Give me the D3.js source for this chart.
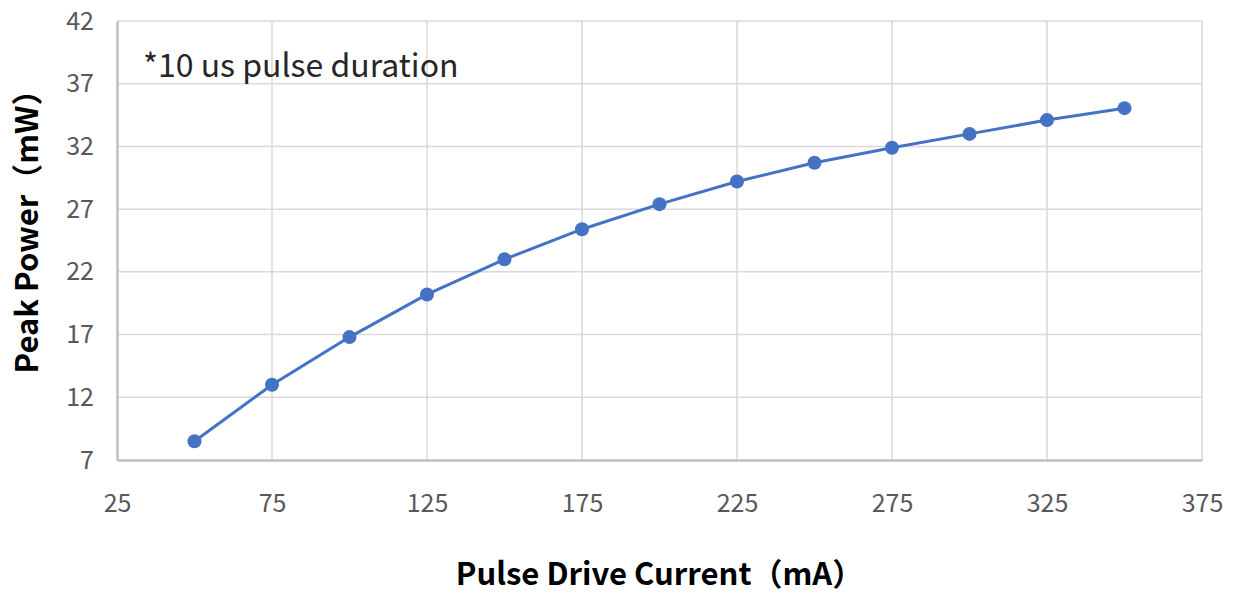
<!DOCTYPE html>
<html>
<head>
<meta charset="utf-8">
<script src="https://cdn.jsdelivr.net/npm/d3@7"></script>
<style>
  body { margin: 0; background: #fff; }
  text { font-family: "Noto Sans CJK JP", "Noto Sans", sans-serif; }
</style>
</head>
<body>
<div id="container"></div>
<script>
/** DATA */
const current = [50, 75, 100, 125, 150, 175, 200, 225, 250, 275, 300, 325, 350];
const power = [8.5, 13.0, 16.8, 20.2, 23.0, 25.4, 27.4, 29.2, 30.7, 31.9, 33.0, 34.1, 35.05];
const xTicks = [25, 75, 125, 175, 225, 275, 325, 375];
const yTicks = [7, 12, 17, 22, 27, 32, 37, 42];

/** CONSTANTS */
const width = 1235,
  height = 593,
  margin = { top: 21, bottom: 133, left: 117, right: 33 };

const svg = d3.select("#container")
  .append("svg")
  .attr("width", width)
  .attr("height", height);

const xScale = d3.scaleLinear()
  .domain([25, 375])
  .range([margin.left, width - margin.right]);

const yScale = d3.scaleLinear()
  .domain([7, 42])
  .range([height - margin.bottom, margin.top]);

// gridlines
svg.append("g")
  .selectAll("line")
  .data(yTicks.slice(1))
  .join("line")
  .attr("x1", margin.left)
  .attr("x2", width - margin.right)
  .attr("y1", d => yScale(d))
  .attr("y2", d => yScale(d))
  .style("stroke", "#d9d9d9")
  .style("stroke-width", 1.5);

svg.append("g")
  .selectAll("line")
  .data(xTicks.slice(1))
  .join("line")
  .attr("x1", d => xScale(d))
  .attr("x2", d => xScale(d))
  .attr("y1", margin.top)
  .attr("y2", height - margin.bottom)
  .style("stroke", "#d9d9d9")
  .style("stroke-width", 1.5);

// axes
const xAxis = svg.append("g")
  .attr("transform", `translate(0,${height - margin.bottom})`)
  .call(d3.axisBottom(xScale).tickValues(xTicks).tickSize(0).tickPadding(34));

const yAxis = svg.append("g")
  .attr("transform", `translate(${margin.left},0)`)
  .call(d3.axisLeft(yScale).tickValues(yTicks).tickSize(0).tickPadding(23));

[xAxis, yAxis].forEach(ax => {
  ax.select(".domain").style("stroke", "#bfbfbf").style("stroke-width", 2.5);
  ax.selectAll("text")
    .style("font-size", "25px")
    .style("fill", "#595959")
    .style("font-family", "\"Noto Sans CJK JP\", sans-serif");
});

// line + markers
const pts = current.map((c, i) => ({ x: c, y: power[i] }));

const line = d3.line()
  .x(d => xScale(d.x))
  .y(d => yScale(d.y));

svg.append("path")
  .datum(pts)
  .attr("d", line)
  .style("fill", "none")
  .style("stroke", "#4472c4")
  .style("stroke-width", 3);

svg.selectAll(".pt")
  .data(pts)
  .join("circle")
  .attr("class", "pt")
  .attr("cx", d => xScale(d.x))
  .attr("cy", d => yScale(d.y))
  .attr("r", 7)
  .style("fill", "#4472c4");

// annotation
svg.append("text")
  .attr("x", 143)
  .attr("y", 77)
  .style("font-size", "32px")
  .style("fill", "#262626")
  .text("*10 us pulse duration");

// axis titles
svg.append("text")
  .attr("x", (margin.left + width - margin.right) / 2)
  .attr("y", 585)
  .attr("text-anchor", "middle")
  .style("font-size", "31px")
  .style("font-weight", "bold")
  .style("fill", "#000")
  .text("Pulse Drive Current（mA）");

svg.append("text")
  .attr("transform", "translate(38,224) rotate(-90)")
  .attr("text-anchor", "middle")
  .style("font-size", "31px")
  .style("font-weight", "bold")
  .style("fill", "#000")
  .text("Peak Power（mW）");
</script>
</body>
</html>
